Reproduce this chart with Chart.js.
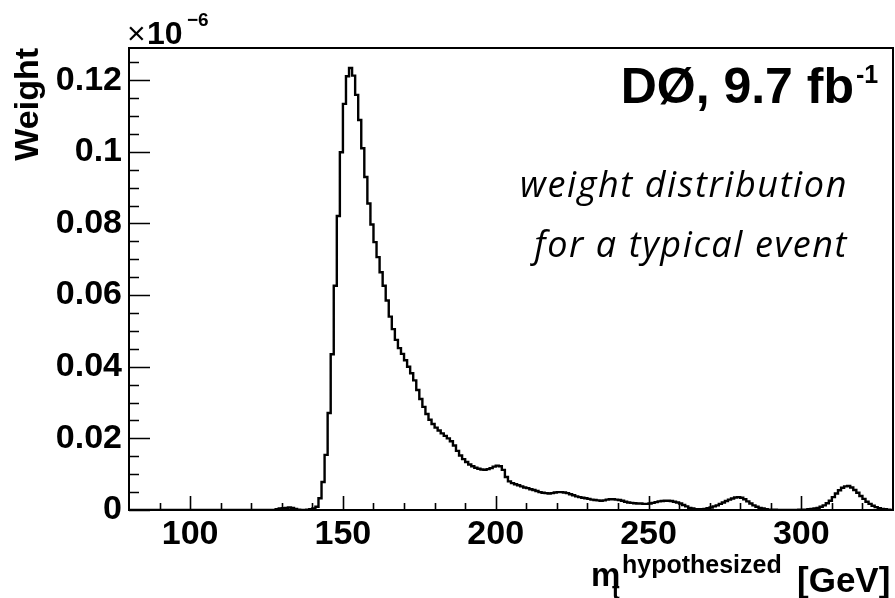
<!DOCTYPE html>
<html>
<head>
<meta charset="utf-8">
<script src="https://cdn.jsdelivr.net/npm/chart.js@4"></script>
<style>
  html, body { margin: 0; padding: 0; background: #ffffff; }
  #wrap { width: 895px; height: 598px; position: relative; }
</style>
</head>
<body>
<div id="wrap"><canvas id="c" width="895" height="598"></canvas></div>
<script>
// Histogram binning: 1 GeV bins from 80 to 330 GeV
const firstBinLow = 80;
const binWidth = 1;

// Bin contents (units of 1e-6), one per bin starting at 80 GeV
const weights = [
  0, 0, 0, 0, 0, 0, 0, 0, 0, 0,            // 80-89
  0, 0, 0, 0, 0, 0, 0, 0, 0, 0,            // 90-99
  0, 0, 0, 0, 0, 0, 0, 0, 0, 0,            // 100-109
  0, 0, 0, 0, 0, 0, 0, 0, 0, 0,            // 110-119
  0, 0, 0, 0, 0, 0, 0, 0,                  // 120-127
  0.0002, 0.0004, 0.0005, 0.0006, 0.0007, 0.0006, 0.0003, 0.0001, 0, 0,   // 128-137
  0.0001, 0.0002, 0.0004, 0.0009, 0.0033, 0.0078, 0.0154, 0.0271, 0.0435, 0.0626, // 138-147
  0.0821, 0.0999, 0.1134, 0.1211, 0.1234, 0.1213, 0.1159, 0.1089, 0.1010, 0.0930, // 148-157
  0.0856, 0.0797, 0.0748, 0.0706, 0.0664, 0.0626, 0.0585, 0.0540, 0.0505, 0.0475, // 158-167
  0.0452, 0.0436, 0.0418, 0.0400, 0.0382, 0.0362, 0.0335, 0.0310, 0.0288, 0.0268, // 168-177
  0.0252, 0.0240, 0.0230, 0.0222, 0.0214, 0.0207, 0.0200, 0.0192, 0.0180, 0.0165, // 178-187
  0.0152, 0.0142, 0.0134, 0.0127, 0.0122, 0.0118, 0.0115, 0.0113, 0.0112, 0.0114, // 188-197
  0.0117, 0.0121, 0.0124, 0.0122, 0.0112, 0.0092, 0.0080, 0.0075, 0.0072, 0.0069, // 198-207
  0.0066, 0.0063, 0.0061, 0.0058, 0.0056, 0.0053, 0.0050, 0.0048, 0.0047, 0.0046, // 208-217
  0.0047, 0.0049, 0.0050, 0.0050, 0.0049, 0.0047, 0.0044, 0.0041, 0.0038, 0.0036, // 218-227
  0.0034, 0.0033, 0.0031, 0.0029, 0.0028, 0.0027, 0.0026, 0.0027, 0.0029, 0.0030, // 228-237
  0.0030, 0.0029, 0.0028, 0.0026, 0.0023, 0.0021, 0.0020, 0.0019, 0.0018, 0.0018, // 238-247
  0.0017, 0.0017, 0.0018, 0.0020, 0.0022, 0.0024, 0.0025, 0.0026, 0.0026, 0.0025, // 248-257
  0.0023, 0.0021, 0.0018, 0.0014, 0.0010, 0.0006, 0.0004, 0.0002, 0.0002, 0.0002, // 258-267
  0.0003, 0.0005, 0.0007, 0.0010, 0.0013, 0.0017, 0.0021, 0.0025, 0.0029, 0.0032, // 268-277
  0.0035, 0.0036, 0.0034, 0.0030, 0.0024, 0.0018, 0.0013, 0.0009, 0.0006, 0.0004, // 278-287
  0.0002, 0.0001, 0.0001, 0.0001, 0, 0, 0, 0, 0, 0,                               // 288-297
  0, 0.0001, 0.0001, 0.0001, 0.0002, 0.0003, 0.0004, 0.0006, 0.0009, 0.0013,      // 298-307
  0.0019, 0.0026, 0.0036, 0.0046, 0.0055, 0.0062, 0.0066, 0.0067, 0.0063, 0.0056, // 308-317
  0.0048, 0.0039, 0.0031, 0.0023, 0.0017, 0.0012, 0.0008, 0.0005, 0.0003, 0.0002, // 318-327
  0.0001, 0                                                                        // 328-329
];

// Axis ranges and labelled ticks
const xRange = [80, 330];
const yRange = [0, 0.129];
const xTickValues = [100, 150, 200, 250, 300];
const xTickLabels = ['100', '150', '200', '250', '300'];
const yTickValues = [0, 0.02, 0.04, 0.06, 0.08, 0.1, 0.12];
const yTickLabels = ['0', '0.02', '0.04', '0.06', '0.08', '0.1', '0.12'];
const xMinorStep = 10;
const yMinorStep = 0.005;

// Outline points at the low edge of each bin, closed at the upper edge
const histPoints = weights.map((w, i) => ({ x: firstBinLow + i * binWidth, y: w }));
histPoints.push({ x: firstBinLow + weights.length * binWidth, y: weights[weights.length - 1] });

const FONT = '"Liberation Sans", Arial, Helvetica, sans-serif';

// Draws the ROOT-style frame, inward tick marks and the text annotations
const frameAndText = {
  id: 'frameAndText',
  afterDraw(chart) {
    const ctx = chart.ctx;
    const area = chart.chartArea;
    const xs = chart.scales.x;
    const ys = chart.scales.y;
    ctx.save();
    ctx.strokeStyle = '#000';
    ctx.fillStyle = '#000';

    // ticks pointing into the plot
    ctx.lineWidth = 1.6;
    ctx.beginPath();
    for (let v = xRange[0] + xMinorStep; v < xRange[1]; v += xMinorStep) {
      const px = Math.round(xs.getPixelForValue(v)) + 0.5;
      const major = xTickValues.includes(v);
      ctx.moveTo(px, area.bottom);
      ctx.lineTo(px, area.bottom - (major ? 14 : 7));
    }
    for (let k = 0; k * yMinorStep <= yRange[1] + 1e-9; k++) {
      const v = +(k * yMinorStep).toFixed(4);
      const py = Math.round(ys.getPixelForValue(v)) + 0.5;
      const major = yTickValues.some(t => Math.abs(t - v) < 1e-9);
      ctx.moveTo(area.left, py);
      ctx.lineTo(area.left + (major ? 21 : 10), py);
    }
    ctx.stroke();

    // frame
    ctx.lineWidth = 2;
    ctx.strokeRect(area.left, area.top, area.right - area.left, area.bottom - area.top);

    // exponent of the y axis
    ctx.textBaseline = 'alphabetic';
    ctx.textAlign = 'left';
    ctx.font = '32px ' + FONT;
    ctx.fillText('\u00d7', 127, 44);
    ctx.font = 'bold 32px ' + FONT;
    ctx.fillText('10', 147, 44);
    ctx.font = 'bold 19px ' + FONT;
    ctx.fillText('\u22126', 187, 26);

    // x axis title: m_t^hypothesized [GeV]
    ctx.font = 'bold 33px ' + FONT;
    ctx.fillText('m', 591, 586);
    ctx.font = 'bold 23px ' + FONT;
    ctx.fillText('t', 612, 599);
    ctx.font = 'bold 25px ' + FONT;
    ctx.fillText('hypothesized', 622, 573);
    ctx.font = 'bold 35px ' + FONT;
    ctx.fillText('[GeV]', 797, 592);

    // experiment label
    ctx.font = 'bold 50px ' + FONT;
    const main = 'D\u00d8, 9.7 fb';
    const mw = ctx.measureText(main).width;
    ctx.fillText(main, 854 - mw, 103);
    ctx.font = 'bold 25px ' + FONT;
    ctx.fillText('-1', 856, 83);

    // description
    ctx.textAlign = 'right';
    ctx.font = 'italic 36px "Open Sans", "DejaVu Sans", sans-serif';
    if ('letterSpacing' in ctx) ctx.letterSpacing = '1.6px';
    ctx.fillText('weight distribution', 848, 197);
    ctx.fillText('for a typical event', 848, 257);

    ctx.restore();
  }
};

new Chart(document.getElementById('c'), {
  type: 'line',
  data: {
    datasets: [{
      data: histPoints,
      stepped: true,
      borderColor: '#000',
      borderWidth: 2.4,
      pointRadius: 0,
      fill: false
    }]
  },
  options: {
    responsive: false,
    devicePixelRatio: 1,
    animation: false,
    layout: { padding: { top: 48, right: 2, left: 0, bottom: 0 } },
    plugins: { legend: { display: false }, tooltip: { enabled: false } },
    scales: {
      x: {
        type: 'linear',
        position: 'bottom',
        min: xRange[0],
        max: xRange[1],
        afterFit(s) { s.height = 88; },
        afterBuildTicks(s) { s.ticks = xTickValues.map(v => ({ value: v })); },
        grid: { display: false, drawTicks: false },
        border: { display: false },
        ticks: {
          autoSkip: false,
          maxRotation: 0,
          padding: 4,
          color: '#000',
          font: { family: FONT, size: 34, weight: 'bold' },
          callback: (v) => xTickLabels[xTickValues.indexOf(v)]
        }
      },
      y: {
        type: 'linear',
        position: 'left',
        min: yRange[0],
        max: yRange[1],
        afterFit(s) { s.width = 129; },
        afterBuildTicks(s) { s.ticks = yTickValues.map(v => ({ value: v })); },
        grid: { display: false, drawTicks: false },
        border: { display: false },
        title: {
          display: true,
          text: 'Weight',
          align: 'end',
          color: '#000',
          font: { family: FONT, size: 34, weight: 'bold' },
          padding: { top: 8, bottom: 0 }
        },
        ticks: {
          padding: 7,
          color: '#000',
          font: { family: FONT, size: 34, weight: 'bold' },
          callback: (v) => yTickLabels[yTickValues.findIndex(t => Math.abs(t - v) < 1e-9)]
        }
      }
    }
  },
  plugins: [frameAndText]
});
</script>
</body>
</html>
